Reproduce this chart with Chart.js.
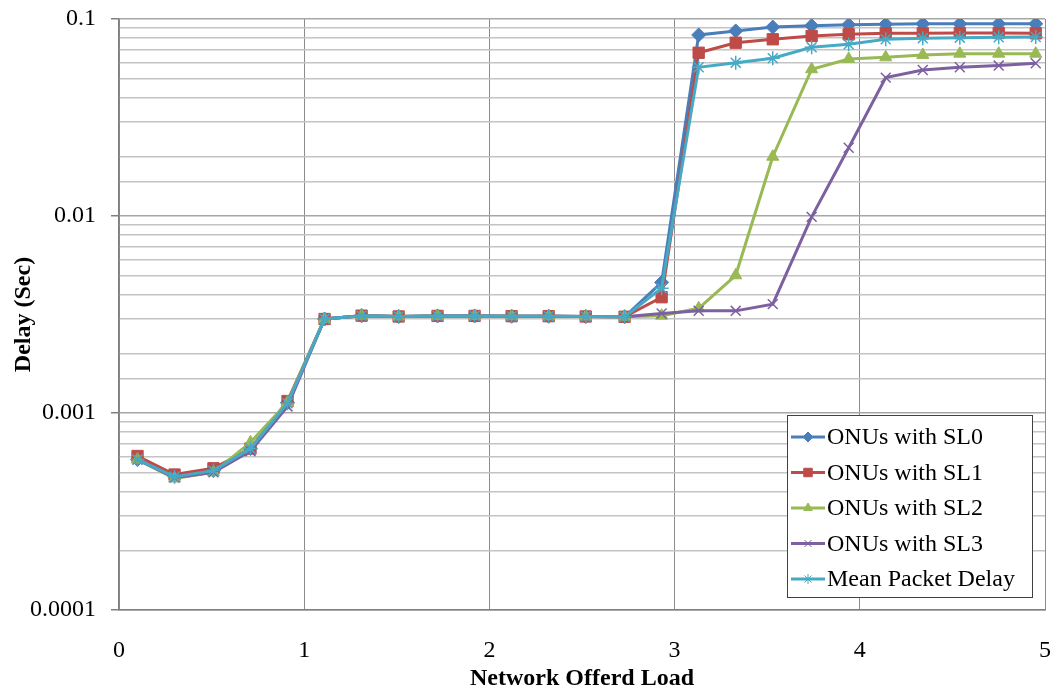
<!DOCTYPE html>
<html>
<head>
<meta charset="utf-8">
<script src="https://cdn.jsdelivr.net/npm/chart.js@4/dist/chart.umd.min.js"></script>
<style>
  html, body { margin: 0; padding: 0; background: #fff; }
  #wrap { width: 1056px; height: 690px; }
</style>
</head>
<body>
<div id="wrap"><canvas id="delayChart" width="1056" height="690"></canvas></div>
<script>
// Offered load for each simulation point
const loads = [0.10, 0.30, 0.51, 0.71, 0.91, 1.11, 1.31, 1.51, 1.72, 1.92, 2.12, 2.32, 2.52,
               2.73, 2.93, 3.13, 3.33, 3.53, 3.74, 3.94, 4.14, 4.34, 4.54, 4.75, 4.95];

// Delay (sec) per service level
const delaySL0 = [0.00058, 0.00048, 0.00051, 0.00066, 0.00113, 0.0030, 0.00312, 0.00309, 0.00311, 0.00311,
                  0.00310, 0.00310, 0.00309, 0.00308, 0.0046, 0.083, 0.087, 0.091, 0.0925, 0.0935,
                  0.094, 0.0945, 0.0945, 0.0945, 0.0945];
const delaySL1 = [0.000605, 0.000487, 0.000524, 0.00066, 0.00115, 0.0030, 0.00312, 0.00309, 0.00311, 0.00311,
                  0.00310, 0.00310, 0.00309, 0.00308, 0.00387, 0.0674, 0.0758, 0.0789, 0.082, 0.0836,
                  0.0846, 0.0846, 0.0849, 0.0849, 0.0846];
const delaySL2 = [0.00058, 0.000465, 0.0005, 0.00071, 0.00113, 0.0030, 0.00312, 0.00309, 0.00311, 0.00311,
                  0.00310, 0.00310, 0.00309, 0.00308, 0.00312, 0.0034, 0.0050, 0.0200, 0.0556, 0.0627,
                  0.0639, 0.0657, 0.0667, 0.0667, 0.0667];
const delaySL3 = [0.00058, 0.00047, 0.0005, 0.00064, 0.00108, 0.0030, 0.00312, 0.00309, 0.00311, 0.00311,
                  0.00310, 0.00310, 0.00309, 0.00308, 0.0032, 0.0033, 0.0033, 0.00357, 0.0099, 0.0222,
                  0.0504, 0.0551, 0.0569, 0.058, 0.0596];
const delayMean = [0.00058, 0.000475, 0.00051, 0.00066, 0.00112, 0.0030, 0.00312, 0.00309, 0.00311, 0.00311,
                   0.00310, 0.00310, 0.00309, 0.00308, 0.0043, 0.0569, 0.060, 0.0632, 0.0718, 0.0744,
                   0.0789, 0.0798, 0.0804, 0.0807, 0.081];

const seriesLabels = ['ONUs with SL0', 'ONUs with SL1', 'ONUs with SL2', 'ONUs with SL3', 'Mean Packet Delay'];
const xTicks = [0, 1, 2, 3, 4, 5];
const yRange = [0.0001, 0.1];

const serif = '"Liberation Serif", "Times New Roman", serif';

function toPoints(values) {
    return values.map((v, i) => ({ x: loads[i], y: v }));
}

function makeSeries(label, values, color, style, radius, order) {
    return {
        label: label,
        data: toPoints(values),
        borderColor: color,
        backgroundColor: color,
        pointBackgroundColor: color,
        pointBorderColor: color,
        borderWidth: 3,
        pointStyle: style,
        pointRadius: radius,
        pointBorderWidth: style === 'crossRot' || style === 'star' ? 1.5 : 1,
        tension: 0,
        order: order
    };
}

function isMajor(v) {
    const l = Math.log10(v);
    return Math.abs(l - Math.round(l)) < 1e-6;
}

// Legend box drawn inside the plot area, like the original
const boxLegend = {
    id: 'boxLegend',
    afterDraw(chart) {
        const ctx = chart.ctx;
        const left = 787, top = 415, w = 245, h = 182;
        ctx.save();
        ctx.fillStyle = '#ffffff';
        ctx.fillRect(left, top, w, h);
        ctx.strokeStyle = '#404040';
        ctx.lineWidth = 1;
        ctx.strokeRect(left + 0.5, top + 0.5, w, h);
        chart.data.datasets.forEach((ds, i) => {
            const y = top + 22 + i * 35.5;
            ctx.strokeStyle = ds.borderColor;
            ctx.lineWidth = 3;
            ctx.beginPath();
            ctx.moveTo(left + 4, y);
            ctx.lineTo(left + 38, y);
            ctx.stroke();
            ctx.fillStyle = ds.backgroundColor;
            ctx.lineWidth = 1;
            Chart.helpers.drawPoint(ctx, {
                pointStyle: ds.pointStyle,
                radius: ds.pointRadius - 2,
                rotation: 0,
                borderWidth: 1
            }, left + 21, y);
            ctx.fillStyle = '#000';
            ctx.font = '24px ' + serif;
            ctx.textAlign = 'left';
            ctx.textBaseline = 'middle';
            ctx.fillText(ds.label, left + 40, y + 1);
        });
        ctx.restore();
    }
};

new Chart(document.getElementById('delayChart'), {
    type: 'line',
    data: {
        datasets: [
            makeSeries(seriesLabels[0], delaySL0, '#4a7ebb', 'rectRot', 7, 5),
            makeSeries(seriesLabels[1], delaySL1, '#be4b48', 'rect', 8, 4),
            makeSeries(seriesLabels[2], delaySL2, '#98b954', 'triangle', 7, 3),
            makeSeries(seriesLabels[3], delaySL3, '#7d60a0', 'crossRot', 7, 2),
            makeSeries(seriesLabels[4], delayMean, '#46aac5', 'star', 7, 1)
        ]
    },
    options: {
        responsive: false,
        animation: false,
        layout: { padding: { left: 0, right: 11, top: 19, bottom: 0 } },
        plugins: {
            legend: { display: false },
            tooltip: { enabled: false }
        },
        scales: {
            x: {
                type: 'linear',
                min: xTicks[0],
                max: xTicks[xTicks.length - 1],
                afterBuildTicks: (scale) => { scale.ticks = xTicks.map(v => ({ value: v })); },
                afterFit: (scale) => {
                    scale.height = 80;
                    scale.paddingLeft = 0;
                    scale.paddingRight = 0;
                },
                border: { color: '#808080', width: 1.5 },
                grid: { color: '#8c8c8c', lineWidth: 1, drawTicks: false },
                ticks: {
                    padding: 26,
                    color: '#000',
                    font: { family: serif, size: 24 }
                },
                title: {
                    display: true,
                    text: 'Network Offerd Load',
                    color: '#000',
                    padding: { top: 0, bottom: -3 },
                    font: { family: serif, size: 24, weight: 'bold' }
                }
            },
            y: {
                type: 'logarithmic',
                min: yRange[0],
                max: yRange[1],
                afterFit: (scale) => {
                    scale.width = 119;
                    scale.paddingTop = 0;
                    scale.paddingBottom = 0;
                },
                border: { color: '#808080', width: 1.5 },
                grid: {
                    color: (c) => c.tick && isMajor(c.tick.value) ? '#a6a6a6' : '#c4c4c4',
                    lineWidth: 1.5,
                    tickLength: 8,
                    tickColor: (c) => c.tick && isMajor(c.tick.value) ? '#808080' : 'rgba(0,0,0,0)'
                },
                ticks: {
                    autoSkip: false,
                    padding: 15,
                    color: '#000',
                    font: { family: serif, size: 24 },
                    callback: (value) => isMajor(value) ? String(Number(value.toPrecision(6))) : ''
                },
                title: {
                    display: true,
                    text: 'Delay (Sec)',
                    color: '#000',
                    padding: { top: 9, bottom: 8 },
                    font: { family: serif, size: 24, weight: 'bold' }
                }
            }
        }
    },
    plugins: [boxLegend]
});
</script>
</body>
</html>
